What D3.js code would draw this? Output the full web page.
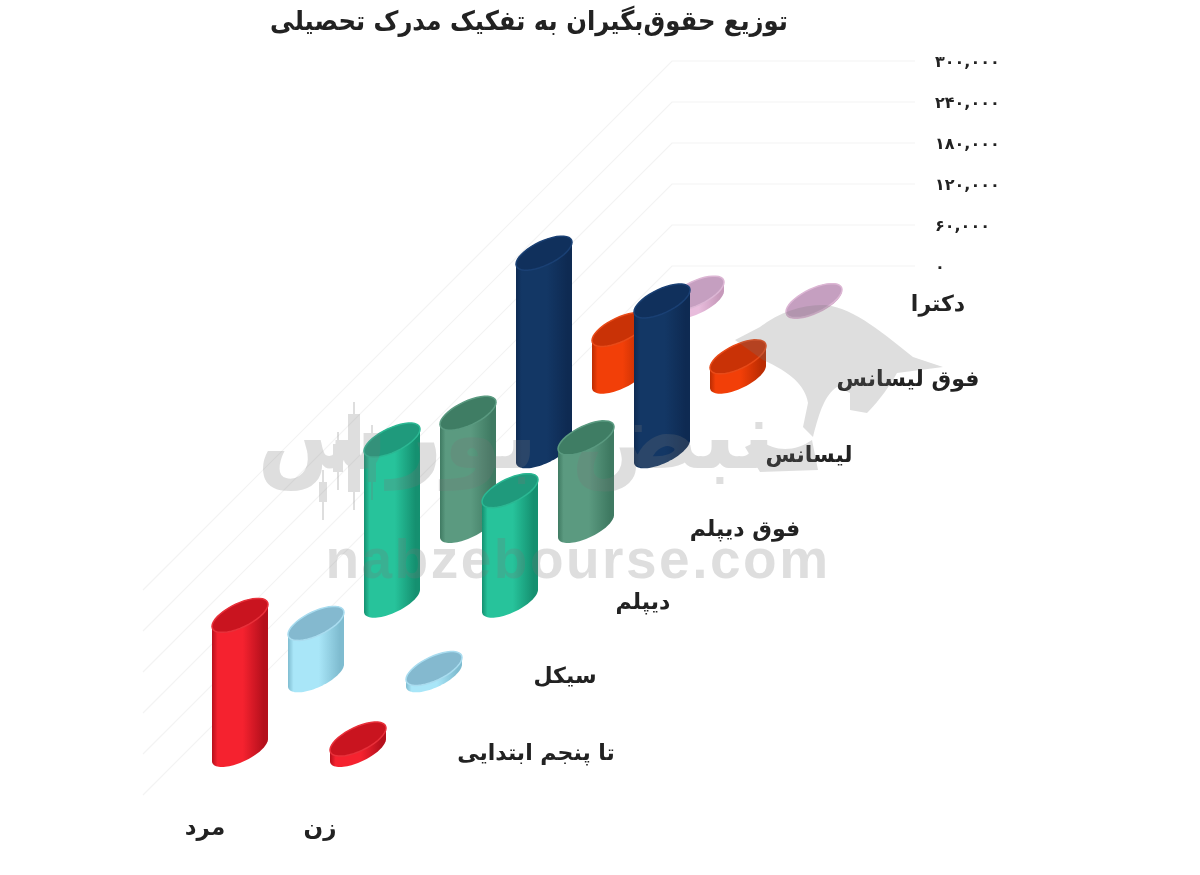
<!DOCTYPE html>
<html><head><meta charset="utf-8">
<script src="https://cdn.jsdelivr.net/npm/d3@7"></script>
<style>
html,body{margin:0;padding:0;background:#fff;overflow:hidden}
svg{display:block;filter:blur(0.55px)}
text{font-family:"DejaVu Sans",sans-serif;fill:#222}
</style></head><body>
<svg id="c" width="1200" height="875"></svg>
<script>
const title = "توزیع حقوق‌بگیران به تفکیک مدرک تحصیلی";
const categories = ["تا پنجم ابتدایی","سیکل","دیپلم","فوق دیپلم","لیسانس","فوق لیسانس","دکترا"];
const seriesNames = ["مرد","زن"];
const menValues   = [197000, 76000, 235000, 165000, 290000, 69000, 13000];
const womenValues = [ 16000, 10000, 161000, 129000, 220000, 29000,  2000];
const tickValues  = [0, 60000, 120000, 180000, 240000, 300000];
const palette = [
 {side:"#f5222f", dark:"#b5101c", top:"#c9141f", rim:"#e8303a"},
 {side:"#a9e6f8", dark:"#7fbcd0", top:"#84b9cf", rim:"#a9dcef"},
 {side:"#27c39b", dark:"#159070", top:"#1f9a7c", rim:"#2bb893"},
 {side:"#5b9a80", dark:"#3f7a62", top:"#3f7d64", rim:"#5a9a80"},
 {side:"#133765", dark:"#0e2a52", top:"#10305c", rim:"#1a4074"},
 {side:"#f23f08", dark:"#bb2c02", top:"#c93206", rim:"#e84a18"},
 {side:"#e8bcdc", dark:"#c79abb", top:"#c59fc0", rim:"#dcb6d4"}
];

const svg = d3.select("#c");
const defs = svg.append("defs");

// oblique projection scales
const yVal = d3.scaleLinear().domain([0,300000]).range([266,61]);
const catX = d3.scalePoint().domain(categories).range([0,456]);
const catY = d3.scalePoint().domain(categories).range([750,302]);
const serX = d3.scalePoint().domain(seriesNames).range([240,358]);

// floor/wall grid
const wallLeft = 672, wallRight = 915, floorLeft = 143;
const grid = svg.append("g").attr("fill","none").attr("stroke-width",1.2);
tickValues.forEach(v=>{
  const y = yVal(v);
  grid.append("path").attr("stroke","#f3f3f3")
    .attr("d",d3.line()([[floorLeft,y+(wallLeft-floorLeft)],[wallLeft,y],[wallRight,y]]));
});

// value axis
const axis = d3.axisRight(yVal).tickValues(tickValues).tickSize(0).tickPadding(0)
  .tickFormat(d=>d3.format(",")(d).replace(/\d/g,c=>"۰۱۲۳۴۵۶۷۸۹"[+c]));
const axG = svg.append("g").attr("transform","translate(935,0)").call(axis);
axG.select(".domain").remove();
axG.selectAll("text").attr("font-size",16).attr("font-weight","bold").attr("fill","#333")
   .style("font-family","'DejaVu Sans'").attr("letter-spacing",1.8).attr("direction","ltr");

// cylinders
const R = 28, shear = 11, minor = 13;
const ring = (cx,cy,a,b)=>d3.range(a,b+1e-6,(b-a)/40)
  .map(t=>[cx+R*Math.cos(t), cy-shear*Math.cos(t)+minor*Math.sin(t)]);
palette.forEach((p,i)=>{
  const g = defs.append("linearGradient").attr("id","g"+i);
  [[0,p.dark],[.1,p.side],[.55,p.side],[.92,p.dark],[1,p.dark]].forEach(s=>
    g.append("stop").attr("offset",s[0]).attr("stop-color",s[1]));
});
const line = d3.line();
const bars = [];
categories.forEach((c,i)=>{
  seriesNames.forEach((s,j)=>bars.push({c,i,s,v:(j?womenValues:menValues)[i]}));
});
bars.sort((a,b)=>b.i-a.i);
const barG = svg.append("g");
bars.forEach(d=>{
  const cx = serX(d.s)+catX(d.c), y0 = catY(d.c), y1 = y0-(yVal(0)-yVal(d.v));
  const p = palette[d.i];
  const g = barG.append("g");
  const outline = ring(cx,y0,0,Math.PI).concat(ring(cx,y1,Math.PI,2*Math.PI));
  g.append("path").attr("d",line(outline)+"Z").attr("fill",`url(#g${d.i})`);
  g.append("path").attr("d",line(ring(cx,y1,0,2*Math.PI))+"Z").attr("fill",p.top)
    .attr("stroke",p.rim).attr("stroke-width",1.5);
});

// category labels
const catLabelX = [536,565,643,745,809,908,938];
const catLabelY = [754,677,603,530,456,380,305];
svg.append("g").selectAll("text").data(categories).join("text")
  .attr("x",(d,i)=>catLabelX[i]).attr("y",(d,i)=>catLabelY[i])
  .attr("text-anchor","middle").attr("dominant-baseline","middle")
  .attr("font-size",22).attr("font-weight","bold").attr("fill","#333").text(d=>d);
const serLabelX = [205,320];
svg.append("g").selectAll("text").data(seriesNames).join("text")
  .attr("x",(d,i)=>serLabelX[i]).attr("y",828)
  .attr("text-anchor","middle").attr("dominant-baseline","middle")
  .attr("font-size",23).attr("font-weight","bold").attr("fill","#333").text(d=>d);

// title
svg.append("text").attr("transform","translate(529,22) scale(0.9,1)").attr("text-anchor","middle").attr("dominant-baseline","middle")
  .attr("font-size",27).attr("font-weight","bold").attr("fill","#111").text(title);

// watermark
const wm = svg.append("g").attr("opacity",0.24).attr("fill","#777");
wm.append("path").attr("d","M760 327C780 312 800 305 825 305C855 308 885 335 913 357L943 367L897 373C890 385 880 400 867 413L850 410L850 393L837 387C825 395 820 410 813 437L803 427L808 403C805 385 790 372 763 360L735 340Z");
wm.append("path").attr("d","M745 447L760 440C775 452 795 452 812 440L818 470L760 472Z");
wm.append("text").attr("x",578).attr("y",578).attr("text-anchor","middle")
  .style("font-family","'Liberation Sans'").attr("font-weight","bold").attr("font-size",55)
  .attr("letter-spacing",2.5).style("fill","#777").text("nabzebourse.com");
wm.append("text").attr("x",516).attr("y",468).attr("text-anchor","middle")
  .attr("font-weight","bold").attr("font-size",95).style("fill","#777").text("نبض بورس");
// candlesticks of the logotype
[[323,470,520,8],[338,432,490,10],[354,402,510,12],[372,425,500,8]].forEach(([x,a,b,w])=>{
  wm.append("rect").attr("x",x-1).attr("y",a).attr("width",2).attr("height",b-a);
  wm.append("rect").attr("x",x-w/2).attr("y",a+12).attr("width",w).attr("height",b-a-30);
});
</script></body></html>
